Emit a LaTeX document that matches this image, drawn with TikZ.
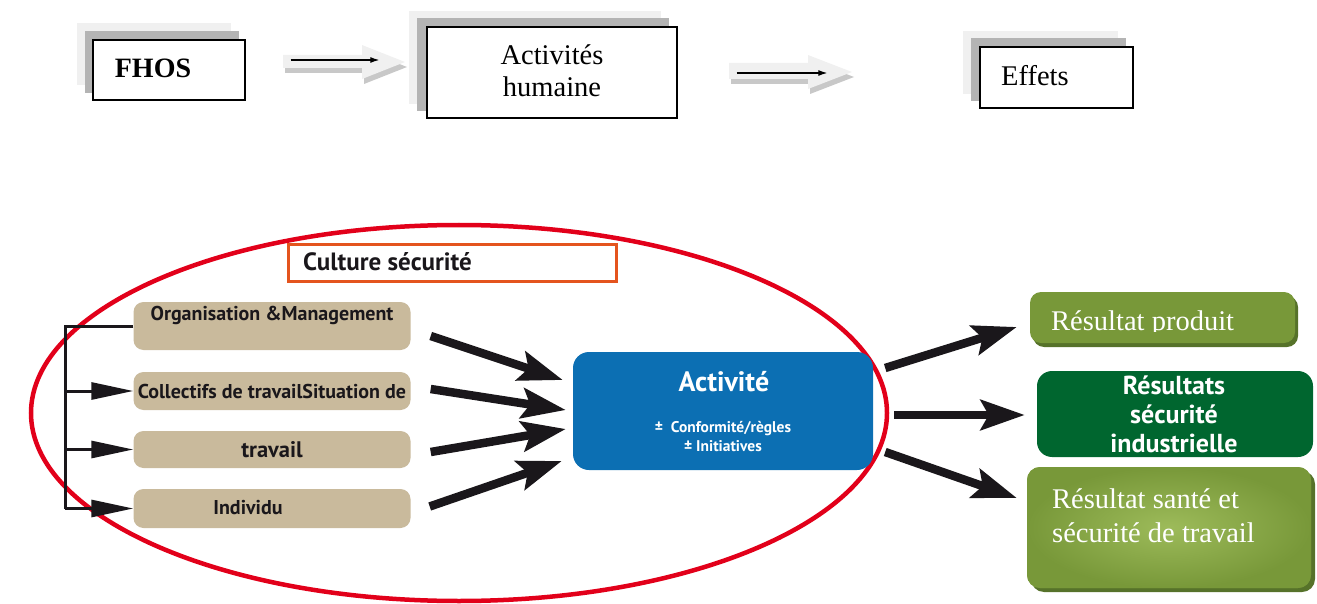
\documentclass[tikz,border=0pt]{standalone}
\usepackage{fontspec}
\setmainfont{Liberation Serif}
\newfontfamily\ptsans{PT Sans}
\usetikzlibrary{arrows.meta,calc,shapes.geometric,backgrounds}

\definecolor{tanc}{HTML}{C9BA9C}
\definecolor{actblue}{HTML}{0C6FB3}
\definecolor{ellred}{HTML}{E2001A}
\definecolor{cultorange}{HTML}{E4541E}
\definecolor{olive}{HTML}{789839}
\definecolor{olivelight}{HTML}{9DBB5A}
\definecolor{oliveshadow}{HTML}{56722A}
\definecolor{darkgreen}{HTML}{00662F}
\definecolor{shadelight}{HTML}{F0F0F0}
\definecolor{shademid}{HTML}{B4B4B4}
\definecolor{blockshadow}{HTML}{C8C8C8}
\definecolor{arrowblack}{HTML}{1A171B}

\begin{document}
\begin{tikzpicture}[x=1pt,y=-1pt,
  framebox/.style={draw=black, line width=1.3pt, fill=white, inner sep=0pt},
  serifbig/.style={font=\fontsize{28.5}{32}\selectfont},
  tanbox/.style={fill=tanc, rounded corners=10pt, inner sep=0pt, minimum width=277pt},
  tantext/.style={font=\ptsans\bfseries\fontsize{20}{23}\selectfont, text=arrowblack, inner sep=0pt},
  fatarrow/.style={line width=8.5pt, draw=arrowblack, -{Stealth[length=44pt,width=30pt,inset=8pt]}},
  brackarrow/.style={line width=3pt, draw=arrowblack, -{Triangle[length=42pt,width=17pt]}},
  thinarrow/.style={line width=1.2pt, draw=black, -{Latex[length=9pt,width=6pt]}},
  greenbox/.style={fill=olive, rounded corners=11pt, inner sep=0pt},
  whiteserif/.style={text=white, font=\fontsize{28.5}{34}\selectfont, inner sep=0pt},
]
\useasboundingbox (0,0) rectangle (1317,604);

% ---------- top row ----------
\node[framebox, minimum width=152pt, minimum height=60pt] (fhos) at (169,70) {};
\node[framebox, minimum width=250pt, minimum height=91pt] (acth) at (552,72.5) {};
\node[framebox, minimum width=153pt, minimum height=61pt] (effets) at (1056.5,77.5) {};

\begin{scope}[on background layer]
  \foreach \b/\lx/\ly/\mx/\my in {fhos/-15/-16/-7/-8, acth/-17/-15/-9/-8, effets/-16/-15/-8/-8} {
    \fill[shadelight] ($(\b.north west)+(\lx,\ly)$) rectangle ($(\b.south east)+(\lx,\ly)$);
    \fill[shademid] ($(\b.north west)+(\mx,\my)$) rectangle ($(\b.south east)+(\mx,\my)$);
  }
\end{scope}

\node[font=\bfseries\fontsize{28}{32}\selectfont, anchor=base, inner sep=0pt] (fhostxt) at (153,78) {FHOS};
\node[serifbig, anchor=base, inner sep=0pt] (acttxt1) at (552,65) {Activités};
\node[serifbig, anchor=base, inner sep=0pt] (acttxt2) at (552,97) {humaine};
\node[serifbig, anchor=base west, inner sep=0pt] (effetstxt) at (1001,86) {Effets};

% block arrows between the top boxes
\foreach \sx/\sy/\hx/\tx/\st/\sb/\ht/\hb/\ty in {283/0/362/405/55/68/45/79/62, 729/0/808/852/63/79/55/89/72} {
  \fill[blockshadow] (\sx+2,\st+5) -- (\hx+2,\st+5) -- (\hx+2,\ht+5) -- (\tx+2,\ty+5) -- (\hx+2,\hb+5) -- (\hx+2,\sb+5) -- (\sx+2,\sb+5) -- cycle;
  \fill[shadelight] (\sx,\st) -- (\hx,\st) -- (\hx,\ht) -- (\tx,\ty) -- (\hx,\hb) -- (\hx,\sb) -- (\sx,\sb) -- cycle;
}
\coordinate (a1s) at ($(fhos.east)+(45,-10)$);
\coordinate (a1e) at ($(acth.west)+(-47,-12.5)$);
\draw[thinarrow] (a1s) -- (a1e);
\coordinate (a2s) at ($(acth.east)+(59,0.5)$);
\coordinate (a2e) at ($(effets.west)+(-152,-4.5)$);
\draw[thinarrow] (a2s) -- (a2e);

% ---------- safety culture zone ----------
\node[ellipse, draw=ellred, line width=4.5pt, minimum width=856pt, minimum height=376pt, inner sep=0pt] (zone) at (459,413) {};

\node[draw=cultorange, line width=3pt, minimum width=328pt, minimum height=37pt, inner sep=0pt] (culture) at (452,263) {};
\node[font=\ptsans\bfseries\fontsize{25}{28}\selectfont, text=arrowblack, anchor=west, inner sep=0pt] (culturetxt) at (303,262) {Culture sécurité};

\node[tanbox, minimum height=48pt] (org) at (272,326) {};
\node[tanbox, minimum height=38pt] (coll) at (272,391) {};
\node[tanbox, minimum height=37pt] (trav) at (272,449.5) {};
\node[tanbox, minimum height=39pt] (indiv) at (272,508.5) {};

\node[tantext] (orgtxt) at (272,315) {Organisation \&Management};
\node[tantext] (colltxt) at (272,391) {Collectifs de travailSituation de};
\node[tantext, font=\ptsans\bfseries\fontsize{22.5}{26}\selectfont] (travtxt) at (272,450) {travail};
\node[tantext] (indivtxt) at (248,508) {Individu};

% left bracket feeding the factor boxes
\coordinate (brtop) at (65,326);
\coordinate (brbot) at (65,508.5);
\draw[line width=3pt, arrowblack] (org.west) -- (brtop) -- (brbot);
\draw[brackarrow] (brtop |- coll.west) -- (coll.west);
\draw[brackarrow] (brtop |- trav.west) -- (trav.west);
\draw[brackarrow] (brbot) -- (indiv.west);

% activity box
\node[fill=actblue, rounded corners=16pt, minimum width=300pt, minimum height=118pt, inner sep=0pt] (activite) at (723,411) {};
\node[font=\ptsans\bfseries\fontsize{28}{32}\selectfont, text=white, inner sep=0pt] (activitetxt) at (724,382) {Activité};
\node[font=\ptsans\bfseries\fontsize{15.5}{19}\selectfont, text=white, align=center, inner sep=0pt] (activitesub) at (723,436.5) {±\ \ Conformité/règles\\± Initiatives};

% factors into activity
\draw[fatarrow] ($(org.east)+(20,10)$) -- ($(activite.west)+(-10,-31)$);
\draw[fatarrow] ($(coll.east)+(20,-2)$) -- ($(activite.west)+(-7,-1)$);
\draw[fatarrow] ($(trav.east)+(20,2.5)$) -- ($(activite.west)+(-7,18)$);
\draw[fatarrow] ($(indiv.east)+(19,-2)$) -- ($(activite.west)+(-11,50)$);

% ---------- results ----------
\fill[oliveshadow, rounded corners=11pt] (1033,296) rectangle (1298,347);
\node[greenbox, minimum width=265pt, minimum height=51pt] (prod) at (1162.5,317.5) {};
\begin{scope}
  \clip (1030,292) rectangle (1298,331);
  \node[whiteserif, anchor=base west] (prodtxt) at (1051,330) {Résultat produit};
\end{scope}

\node[fill=darkgreen, rounded corners=15pt, minimum width=276pt, minimum height=86pt, inner sep=0pt] (indus) at (1175,414) {};
\node[font=\ptsans\bfseries\fontsize{26}{29}\selectfont, text=white, align=center, inner sep=0pt] (industxt) at (1174,414) {Résultats\\sécurité\\industrielle};

\fill[oliveshadow, rounded corners=13pt] (1031,471) rectangle (1315,592);
\node[greenbox, rounded corners=13pt, minimum width=284pt, minimum height=121pt, inner color=olivelight, outer color=olive, shading=radial] (sante) at (1169,527.5) {};
\node[whiteserif, anchor=base west] (santetxt1) at (1052,508) {Résultat santé et};
\node[whiteserif, anchor=base west] (santetxt2) at (1052,542) {sécurité de travail};

% activity into results
\draw[fatarrow] ($(activite.east)+(12,-43)$) -- ($(prod.west)+(-13,9.5)$);
\draw[fatarrow] ($(activite.east)+(21,4)$) -- ($(indus.west)+(-12,1)$);
\draw[fatarrow] ($(activite.east)+(12,41)$) -- ($(sante.west)+(-10,-29.5)$);
\end{tikzpicture}
\end{document}
